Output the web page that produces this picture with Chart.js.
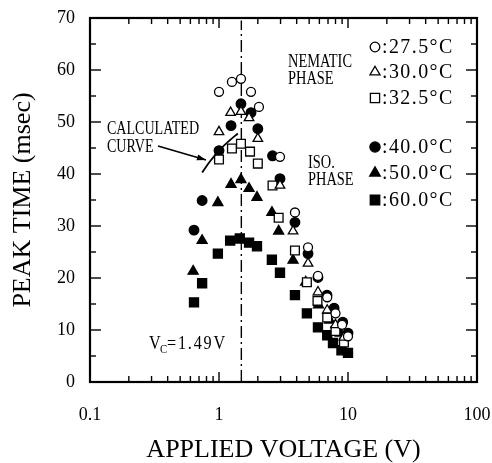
<!DOCTYPE html>
<html><head><meta charset="utf-8">
<script src="https://cdn.jsdelivr.net/npm/chart.js@4.4.1/dist/chart.umd.min.js"></script>
<style>html,body{margin:0;padding:0;background:#fff}#wrap{width:492px;height:463px}</style>
</head><body><div id="wrap"><canvas id="c" width="492" height="463"></canvas></div>
<script>
// ---- data ----
const xTickValues = [0.1, 1, 10, 100];
const xTickLabels = ['0.1', '1', '10', '100'];
const yTickValues = [0, 10, 20, 30, 40, 50, 60, 70];
const seriesLabels = ['27.5°C', '30.0°C', '32.5°C', '40.0°C', '50.0°C', '60.0°C'];

const v275 = [1.0, 1.26, 1.48, 1.77, 2.04, 2.97, 3.88, 4.9, 5.85, 6.9, 8.0, 9.0, 10.0];
const t275 = [55.8, 57.7, 58.3, 55.8, 52.9, 43.3, 32.6, 25.9, 20.4, 16.3, 13.2, 11.0, 8.8];

const v300 = [1.0, 1.23, 1.48, 1.71, 2.0, 2.97, 3.75, 4.9, 5.85, 6.9, 8.0, 9.3];
const t300 = [48.1, 51.8, 52.0, 50.8, 46.8, 37.8, 29.0, 22.8, 17.3, 13.8, 11.0, 8.6];

const v325 = [1.0, 1.26, 1.48, 1.74, 2.0, 2.6, 2.9, 3.88, 4.8, 5.8, 6.9, 8.0, 9.3];
const t325 = [42.8, 44.9, 45.8, 44.3, 42.0, 37.8, 31.6, 25.3, 19.2, 15.6, 12.4, 9.8, 7.6];

const v400 = [0.64, 0.74, 1.0, 1.24, 1.48, 1.77, 2.0, 2.6, 2.97, 3.88, 4.9, 5.85, 6.87, 7.8, 9.1, 10.0];
const t400 = [29.2, 34.9, 44.5, 49.3, 53.5, 51.8, 48.7, 43.5, 39.1, 30.7, 24.7, 20.1, 16.7, 14.2, 11.5, 9.4];

const v500 = [0.63, 0.74, 0.98, 1.24, 1.48, 1.71, 1.97, 2.57, 2.9, 3.75, 4.7, 5.9, 7.2, 8.7];
const t500 = [21.3, 27.2, 34.5, 38.0, 38.9, 37.2, 35.5, 32.6, 29.0, 23.4, 19.2, 14.8, 11.9, 9.4];

const v600 = [0.64, 0.74, 0.98, 1.22, 1.45, 1.71, 1.97, 2.57, 2.97, 3.88, 4.8, 5.85, 6.9, 7.65, 8.9, 10.0];
const t600 = [15.3, 19.0, 24.7, 27.2, 27.6, 26.8, 26.1, 23.5, 21.0, 16.7, 13.2, 10.5, 9.0, 7.5, 6.1, 5.6];

const curveV = [0.74, 0.85, 1.0, 1.2, 1.4];
const curveT = [40.3, 42.4, 44.5, 46.4, 47.8];

const vcValue = 1.49;
const vcSpan = [0, 69.5];

// ---- build ----
const pts = (xs, ys) => xs.map((x, i) => ({x: x, y: ys[i]}));
const styles = [
  {ps: 'circle', r: 4.5, fill: '#fff'},
  {ps: 'triangle', r: 5.5, fill: '#fff'},
  {ps: 'rect', r: 6.2, fill: '#fff'},
  {ps: 'circle', r: 4.8, fill: '#000'},
  {ps: 'triangle', r: 5.8, fill: '#000'},
  {ps: 'rect', r: 6.4, fill: '#000'}
];
const seriesData = [pts(v275, t275), pts(v300, t300), pts(v325, t325), pts(v400, t400), pts(v500, t500), pts(v600, t600)];
const datasets = seriesData.map((d, i) => ({
  label: seriesLabels[i], data: d, showLine: false,
  pointStyle: styles[i].ps, pointRadius: styles[i].r, pointHoverRadius: styles[i].r,
  backgroundColor: styles[i].fill, borderColor: '#000', borderWidth: 1.3,
  order: i < 3 ? 1 : 2
}));
datasets.push({label: 'calc', data: pts(curveV, curveT), showLine: true, pointRadius: 0,
  borderColor: '#000', borderWidth: 1.8, tension: 0.4, order: 0});
datasets.push({label: 'vc', data: pts([vcValue, vcValue], vcSpan), showLine: true, pointRadius: 0,
  borderColor: '#000', borderWidth: 1.4, borderDash: [12, 4, 2, 4], order: 3});

function txt(ctx, s, x, y, size, sx, align, ls) {
  ctx.save();
  ctx.font = size + 'px "Liberation Serif"';
  ctx.textBaseline = 'middle';
  ctx.textAlign = align || 'left';
  if (ls) ctx.letterSpacing = ls;
  ctx.translate(x, y); ctx.scale(sx, 1);
  ctx.fillStyle = '#000';
  ctx.fillText(s, 0, 0);
  ctx.restore();
}
function seg(ctx, a, b, c, d) { ctx.beginPath(); ctx.moveTo(a, b); ctx.lineTo(c, d); ctx.stroke(); }

const deco = {
  id: 'deco',
  afterDraw(chart) {
    const ctx = chart.ctx, xa = chart.scales.x, ya = chart.scales.y, ca = chart.chartArea;
    ctx.save();
    ctx.strokeStyle = '#000';
    ctx.lineWidth = 1.4;
    for (let d = -1; d < 2; d++) for (let m = 1; m < 10; m++) {
      const px = xa.getPixelForValue(m * Math.pow(10, d));
      const len = m === 1 ? 10 : 6;
      seg(ctx, px, ca.bottom, px, ca.bottom - len);
      seg(ctx, px, ca.top, px, ca.top + len);
    }
    for (let v = 0; v <= 70; v += 5) {
      const py = ya.getPixelForValue(v);
      const len = v % 10 === 0 ? 11 : 6;
      seg(ctx, ca.left, py, ca.left + len, py);
      seg(ctx, ca.right, py, ca.right - len, py);
    }
    ctx.lineWidth = 2.2;
    ctx.strokeRect(ca.left, ca.top, ca.right - ca.left, ca.bottom - ca.top);

    // legend
    const rows = [47, 72, 98, 147, 173, 200];
    rows.forEach((y, i) => {
      ctx.fillStyle = styles[i].fill; ctx.strokeStyle = '#000'; ctx.lineWidth = 1.3;
      Chart.helpers.drawPoint(ctx, {pointStyle: styles[i].ps, radius: styles[i].r + 0.3, borderWidth: 1.3}, 375, y);
      txt(ctx, ':' + seriesLabels[i], 382, y, 21, 0.95, 'left', '1.5px');
    });

    txt(ctx, 'NEMATIC', 288, 62, 18, 0.8);
    txt(ctx, 'PHASE', 288, 79, 18, 0.8);
    txt(ctx, 'ISO.', 308, 163, 18, 0.8);
    txt(ctx, 'PHASE', 308, 180, 18, 0.8);
    txt(ctx, 'CALCULATED', 107, 129, 18, 0.78);
    txt(ctx, 'CURVE', 107, 147, 18, 0.78);

    // Vc label
    txt(ctx, 'V', 149, 344, 18, 0.9);
    txt(ctx, 'C', 160, 350, 12, 0.9);
    txt(ctx, '=1.49V', 167, 344, 18, 0.9, 'left', '2px');

    // arrow
    const x0 = 158, y0 = 146, x1 = 206, y1 = 160;
    ctx.strokeStyle = '#000'; ctx.lineWidth = 1.4;
    seg(ctx, x0, y0, x1, y1);
    const ang = Math.atan2(y1 - y0, x1 - x0);
    ctx.beginPath();
    ctx.moveTo(x1, y1);
    ctx.lineTo(x1 - 9 * Math.cos(ang) + 3 * Math.sin(ang), y1 - 9 * Math.sin(ang) - 3 * Math.cos(ang));
    ctx.lineTo(x1 - 9 * Math.cos(ang) - 3 * Math.sin(ang), y1 - 9 * Math.sin(ang) + 3 * Math.cos(ang));
    ctx.closePath(); ctx.fillStyle = '#000'; ctx.fill();
    ctx.restore();
  }
};

new Chart(document.getElementById('c'), {
  type: 'scatter',
  data: {datasets: datasets},
  options: {
    responsive: false, animation: false, devicePixelRatio: 1,
    layout: {padding: {left: 0, right: 15, top: 18, bottom: 0}},
    plugins: {legend: {display: false}, tooltip: {enabled: false}},
    scales: {
      x: {
        type: 'logarithmic', min: 0.1, max: 100,
        afterBuildTicks: s => { s.ticks = xTickValues.map(v => ({value: v})); },
        afterFit: s => { s.height = 81; s.paddingLeft = 0; s.paddingRight = 0; },
        grid: {display: false, drawTicks: false}, border: {display: false},
        ticks: {color: '#000', padding: 22, maxRotation: 0, autoSkip: false,
          font: {family: 'Liberation Serif', size: 18},
          callback: (v) => { const i = xTickValues.findIndex(t => Math.abs(t - v) < 1e-9); return i >= 0 ? xTickLabels[i] : ''; }},
        title: {display: true, text: 'APPLIED VOLTAGE (V)', color: '#000',
          font: {family: 'Liberation Serif', size: 26, lineHeight: 1}, padding: {top: 0, bottom: 0}}
      },
      y: {
        min: 0, max: 70,
        afterBuildTicks: s => { s.ticks = yTickValues.map(v => ({value: v})); },
        afterFit: s => { s.width = 90; s.paddingTop = 0; s.paddingBottom = 0; },
        grid: {display: false, drawTicks: false}, border: {display: false},
        ticks: {color: '#000', padding: 15, font: {family: 'Liberation Serif', size: 18}},
        title: {display: true, text: 'PEAK TIME (msec)', color: '#000',
          font: {family: 'Liberation Serif', size: 26, lineHeight: 1}, padding: {top: 10, bottom: 0}}
      }
    }
  },
  plugins: [deco]
});
</script></body></html>
